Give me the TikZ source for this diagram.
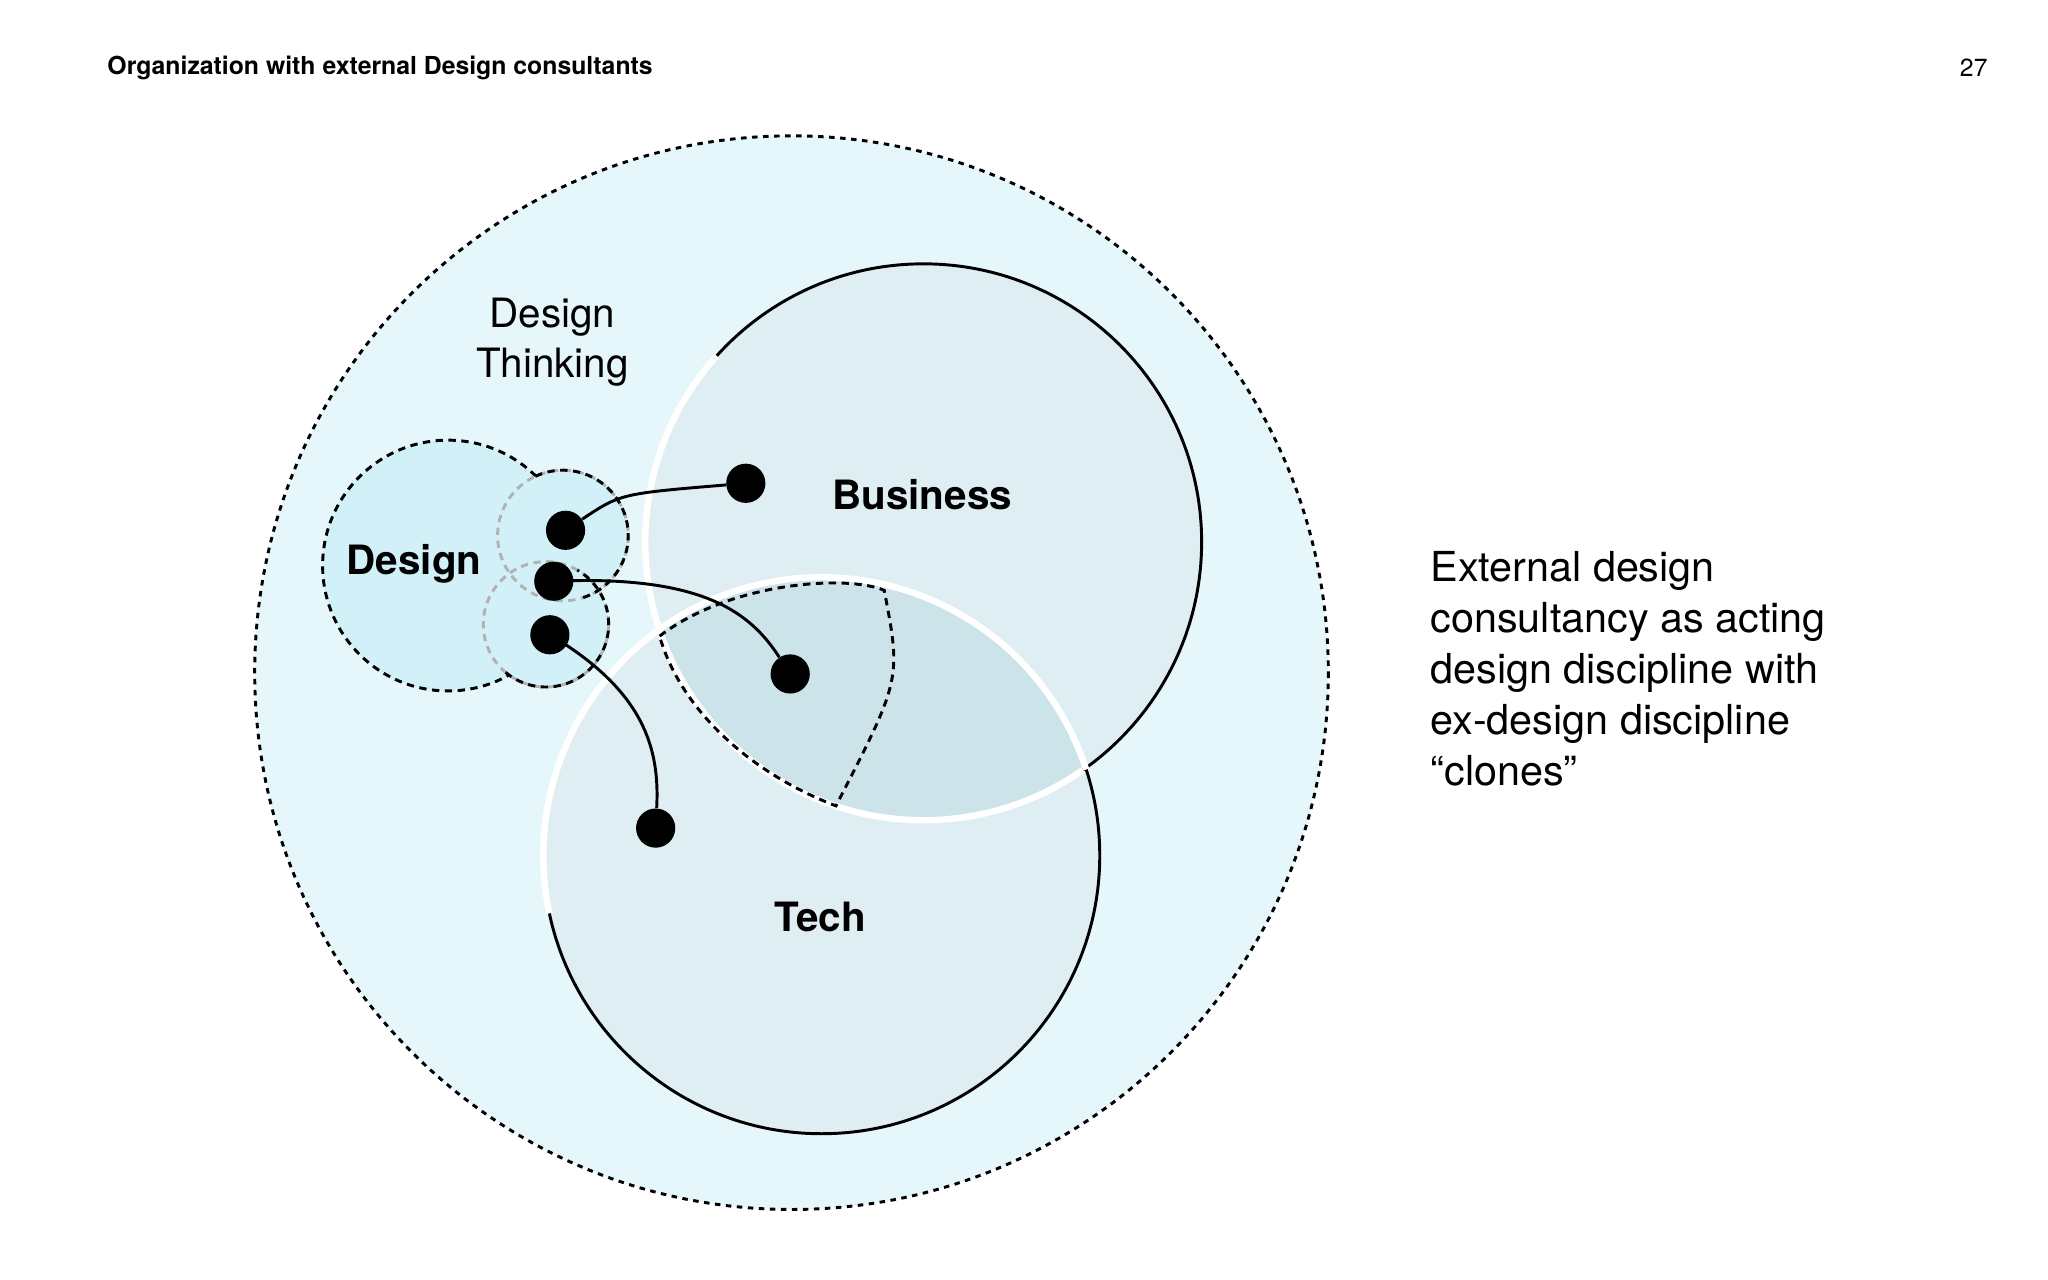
\documentclass[tikz,border=0pt]{standalone}
\usepackage{fontspec}
\setmainfont{TeX Gyre Heros}
\begin{document}
\begin{tikzpicture}[x=0.025cm,y=-0.025cm,
  dsh/.style={dash pattern=on 4pt off 3pt, line width=1.6pt},
  dot/.style={circle,fill=black,inner sep=0pt,minimum size=0.75cm},
  lbl/.style={font=\fontsize{22}{26}\selectfont\bfseries},
  conn/.style={line width=1.6pt}]
\useasboundingbox[fill=white] (0,0) rectangle (1568,980);
\definecolor{outer}{HTML}{E6F7FC}
\definecolor{inner}{HTML}{DFEEF3}
\definecolor{lap}{HTML}{CDE3EA}
\definecolor{des}{HTML}{D2F0F8}
% outer
\fill[outer] (606,515) circle (411);
\draw[dsh,dash pattern=on 3pt off 3pt] (606,515) circle (411);
% business & tech
\coordinate (bc) at (707,415);
\coordinate (tc) at (629,655);
\fill[inner] (bc) circle (213);
\fill[inner] (tc) circle (213);
\begin{scope}
\clip (bc) circle (213);
\fill[lap] (tc) circle (213);
\end{scope}
\draw[line width=1.6pt] (bc) circle (213);
\draw[line width=1.6pt] (tc) circle (213);
\draw[white,line width=3.5pt] (bc) ++(-138:213) arc[start angle=-138,end angle=-305,radius=213];
\draw[white,line width=3.5pt] (tc) ++(-18:213) arc[start angle=-18,end angle=-192,radius=213];
% lens
\draw[dsh] (505,487) .. controls (560,445) and (650,440) .. (677,452)
  .. controls (690,520) .. (640,617) .. controls (570,590) and (520,540) .. (505,487);
% design
\fill[des] (343,433) circle (96);
\draw[dsh] (343,433) circle (96);
\fill[des] (431,410) circle (50);
\fill[des] (418,478) circle (48);
\draw[dsh,gray!60] (431,410) circle (50);
\draw[dsh,gray!60] (418,478) circle (48);
\draw[dsh] (431,410) ++(-115:50) arc[start angle=-115,end angle=75,radius=50];
\draw[dsh] (418,478) ++(130:48) arc[start angle=130,end angle=-60,radius=48];
% dots and connectors
\node[dot] (d1) at (433,406) {};
\node[dot] (d2) at (424,445) {};
\node[dot] (d3) at (421,486) {};
\node[dot] (b1) at (571,370) {};
\node[dot] (l1) at (605,516) {};
\node[dot] (t1) at (502,634) {};
\draw[conn] (d1) .. controls (475,378) .. (b1);
\draw[conn] (d2.center) .. controls (540,440) and (575,470) .. (l1);
\draw[conn] (d3.center) .. controls (495,530) and (505,575) .. (t1);
% labels
\node[lbl] (ld) at (317,432) {Design};
\node[lbl] (lb) at (706,379) {Business};
\node[lbl] (lt) at (628,702) {Tech};
\node[font=\fontsize{22}{27}\selectfont,align=center] (dt) at (423,262) {Design\\Thinking};
\node[anchor=north west,font=\fontsize{22.5}{27.7}\selectfont,align=left,inner sep=0pt] (rt) at (1095,422)
 {External design\\consultancy as acting\\design discipline with\\ex-design discipline\\“clones”};
\node[anchor=west,font=\fontsize{13.5}{16}\selectfont\bfseries,inner sep=0pt] (title) at (82,52) {Organization with external Design consultants};
\node[anchor=east,font=\fontsize{13.5}{16}\selectfont,inner sep=0pt] (pg) at (1522,52) {27};
\end{tikzpicture}
\end{document}
